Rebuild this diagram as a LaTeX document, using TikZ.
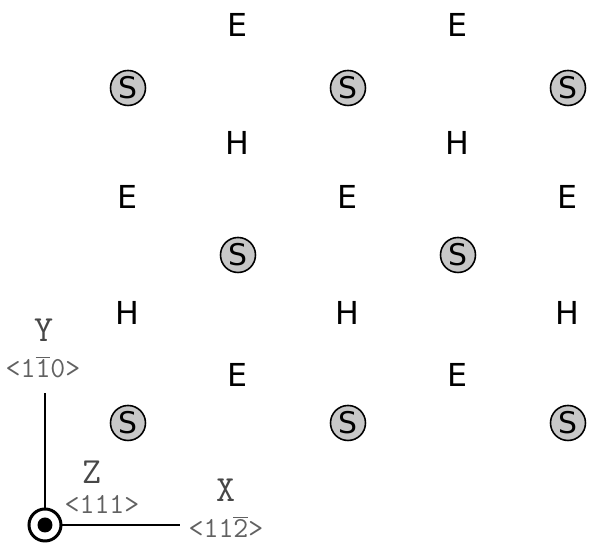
\documentclass[tikz,border=0pt]{standalone}
\usepackage{fontspec}
\setmainfont{DejaVu Sans}
\usepackage{tikz}
\usetikzlibrary{positioning, calc}

% digit with a bar over it, for Miller indices
\newcommand{\negidx}[1]{$\overline{\mbox{#1}}$}

\tikzset{
    site/.style={font=\fontsize{18}{20}\selectfont, inner sep=0pt},
    sulfur/.style={circle, draw=black, line width=0.9pt, fill=black!22,
        minimum size=0.7cm, inner sep=0pt, font=\fontsize{17}{19}\selectfont},
    axislabel/.style={font=\ttfamily\fontsize{21}{23}\selectfont, text=black!72, inner sep=0pt},
    axisindex/.style={font=\ttfamily\fontsize{16.5}{18}\selectfont, text=black!62, inner sep=0pt},
    axisline/.style={line width=1.7pt}
}

\begin{document}
\begin{tikzpicture}
    \useasboundingbox (0,0) rectangle (12,11);

    % Top row of E sites
    \node[site] (e11) at (4.74,10.5) {E};
    \node[site] (e12) at (9.14,10.5) {E};

    % First row of S atoms
    \node[sulfur] (s11) at (2.56,9.24) {S};
    \node[sulfur] (s12) at (6.96,9.24) {S};
    \node[sulfur] (s13) at (11.36,9.24) {S};

    % First row of H sites
    \node[site] (h11) at (4.74,8.14) {H};
    \node[site] (h12) at (9.14,8.14) {H};

    % Second row of E sites
    \node[site] (e21) at (2.54,7.06) {E};
    \node[site] (e22) at (6.94,7.06) {E};
    \node[site] (e23) at (11.34,7.06) {E};

    % Middle row of S atoms
    \node[sulfur] (s21) at (4.76,5.9) {S};
    \node[sulfur] (s22) at (9.16,5.9) {S};

    % Second row of H sites
    \node[site] (h21) at (2.54,4.74) {H};
    \node[site] (h22) at (6.94,4.74) {H};
    \node[site] (h23) at (11.34,4.74) {H};

    % Third row of E sites
    \node[site] (e31) at (4.74,3.5) {E};
    \node[site] (e32) at (9.14,3.5) {E};

    % Bottom row of S atoms
    \node[sulfur] (s31) at (2.56,2.54) {S};
    \node[sulfur] (s32) at (6.96,2.54) {S};
    \node[sulfur] (s33) at (11.36,2.54) {S};

    % Axes: Z points out of the page
    \node[circle, draw=black, line width=1.7pt, minimum size=0.64cm, inner sep=0pt] (origin) at (0.9,0.5) {};
    \fill (origin.center) circle (0.15);
    \coordinate (ytip) at (0.9,3.14);
    \coordinate (xtip) at (3.6,0.5);
    \draw[axisline] (origin) -- (ytip);
    \draw[axisline] (origin) -- (xtip);

    % Axis labels
    \node[axislabel] (ylab) at (0.88,4.4) {Y};
    \node[axisindex] (yidx) at (0.86,3.66) {<1\negidx{1}0>};
    \node[axislabel] (zlab) at (1.84,1.56) {Z};
    \node[axisindex] (zidx) at (2.04,0.92) {<111>};
    \node[axislabel] (xlab) at (4.52,1.2) {X};
    \node[axisindex] (xidx) at (4.52,0.46) {<11\negidx{2}>};

\end{tikzpicture}
\end{document}
